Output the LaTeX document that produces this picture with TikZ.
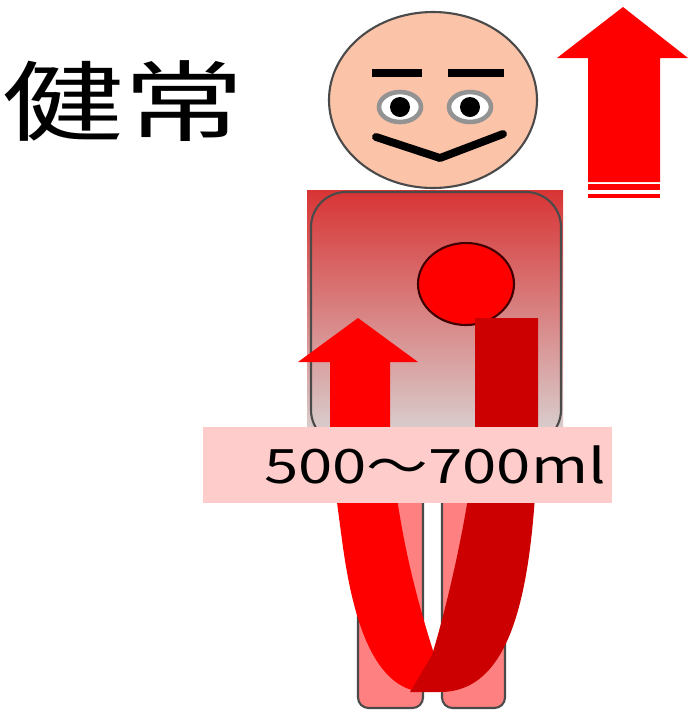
\documentclass[tikz,border=0pt]{standalone}
\usepackage{fontspec}
\usepackage{tikz}
\usetikzlibrary{positioning}
\newfontfamily\jpfont{Noto Sans CJK JP}
\definecolor{skin}{HTML}{FBC3A8}
\definecolor{artery}{HTML}{FF0000}
\definecolor{vein}{HTML}{CC0000}
\definecolor{legpink}{HTML}{FF8080}
\definecolor{tagbg}{HTML}{FFCCCC}
\definecolor{torsotop}{HTML}{D83434}
\definecolor{torsobot}{HTML}{D9CBCB}
\definecolor{edge}{HTML}{4A4A4A}

\begin{document}
\begin{tikzpicture}[x=0.02cm,y=-0.02cm,
  leg/.style={fill=legpink,draw=edge,line width=1.2pt,rounded corners=6pt},
  brow/.style={line width=4pt},
  eye/.style={fill=white,draw=gray!85,line width=2.6pt},
  pupil/.style={fill=black},
  tag/.style={fill=tagbg,inner sep=0pt,minimum width=8.18cm,minimum height=1.52cm},
  big/.style={font=\jpfont\fontsize{50}{50}\selectfont,inner sep=0pt},
  small/.style={font=\jpfont\fontsize{27}{27}\selectfont,inner sep=0pt}
]
\useasboundingbox (0,0) rectangle (688,711);
% title
\node[big] (title) at (124,101) {\scalebox{1.38}[1]{健常}};
% rising arrow, top right
\fill[artery] (623,7) -- (688,58) -- (660,58) -- (660,182) -- (588,182)
  -- (588,58) -- (557,58) -- cycle;
\fill[artery] (588,184) rectangle (660,190);
\fill[artery] (588,194) rectangle (660,198);
% legs
\draw[leg] (358,440) rectangle (423,708);
\draw[leg] (442,440) rectangle (505,708);
% torso
\shade[top color=torsotop,bottom color=torsobot] (307,190) rectangle (563,427);
\draw[edge,line width=1.2pt,rounded corners=20pt] (311,192) rectangle (561,445);
% head
\draw[fill=skin,draw=edge,line width=1.2pt] (433,100) ellipse [x radius=104,y radius=88];
\draw[brow] (372,73) -- (422,73);
\draw[brow] (448,73) -- (504,73);
\draw[eye] (400,107) ellipse [x radius=21,y radius=15];
\draw[eye] (470,107) ellipse [x radius=21,y radius=15];
\fill[pupil] (400,107) circle [radius=10];
\fill[pupil] (470,107) circle [radius=10];
\draw[line width=4.5pt,line cap=round,line join=round] (376,137) -- (440,158) -- (503,134);
% heart
\draw[fill=artery,draw=black!75!red,line width=1.2pt] (466,284) ellipse [x radius=48,y radius=41];
% flow out of the heart and back
\fill[artery] (358,318) -- (418,362) -- (390,362) -- (390,430)
  .. controls (396,530) and (420,610) .. (436,660) -- (426,692)
  .. controls (368,692) and (350,600) .. (342,540)
  .. controls (334,480) and (330,450) .. (330,430) -- (330,362) -- (298,362) -- cycle;
\fill[vein] (475,318) -- (538,318) -- (538,430)
  .. controls (534,580) and (516,692) .. (440,692) -- (410,692) -- (432,655)
  .. controls (452,590) and (475,480) .. (475,430) -- cycle;
% volume tag
\node[tag] (box) at (407.5,465) {};
\node[small] (vol) at (435,465) {\scalebox{1.3}[1]{500～700ml}};
\end{tikzpicture}
\end{document}
